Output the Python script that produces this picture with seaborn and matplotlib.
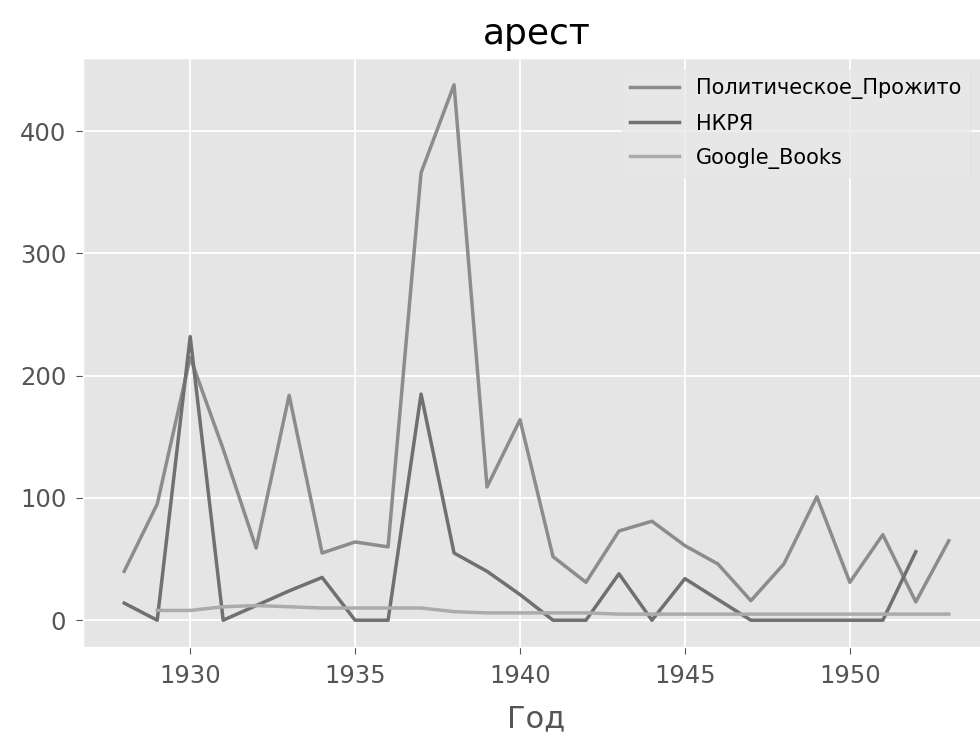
import matplotlib
matplotlib.use("Agg")
import matplotlib.pyplot as plt
import numpy as np
import pandas as pd
import seaborn as sns

years = list(range(1928, 1954))

# values, None = no point that year
prozhito = [40, 95, 215, 140, 59, 184, 55, 64, 60, 366, 438, 109, 164, 52,
            31, 73, 81, 61, 46, 16, 46, 101, 31, 70, 15, 65]
nkrya = [14, 0, 232, 0, 12, 24, 35, 0, 0, 185, 55, 40, 21, 0,
         0, 38, 0, 34, 17, 0, 0, 0, 0, 0, 56, None]
google_books = [None, 8, 8, 11, 12, 11, 10, 10, 10, 10, 7, 6, 6, 6,
                6, 5, 5, 5, 5, 5, 5, 5, 5, 5, 5, 5]

series_names = ["Политическое_Прожито", "НКРЯ", "Google_Books"]
colors = ["#8c8c8c", "#707070", "#ababab"]

df = pd.DataFrame({"Год": years,
                   series_names[0]: prozhito,
                   series_names[1]: nkrya,
                   series_names[2]: google_books})
long_df = df.melt(id_vars="Год", var_name="source", value_name="count").dropna()

plt.style.use("ggplot")
plt.rcParams["font.family"] = ["DejaVu Sans"]
plt.rcParams["grid.linewidth"] = 1.3

fig = plt.figure(figsize=(9.8, 7.38), dpi=100)
ax = fig.add_axes([83 / 980, 1 - 647 / 738, (990 - 83) / 980, (647 - 58) / 738])

sns.lineplot(data=long_df, x="Год", y="count", hue="source",
             hue_order=series_names, palette=colors, linewidth=2.5, ax=ax)

ax.set_title("арест", fontsize=26, pad=10)
ax.set_xlabel("Год", fontsize=22, color="#555555", labelpad=12)
ax.set_ylabel("")
ax.tick_params(axis="both", labelsize=17.5, colors="#555555", length=5, pad=7)
ax.set_xticks([1930, 1935, 1940, 1945, 1950])
ax.set_yticks([0, 100, 200, 300, 400])

leg = ax.legend(loc="upper left", bbox_to_anchor=(622 / 980, 1 - 70 / 738),
                bbox_transform=fig.transFigure, borderaxespad=0,
                fontsize=15, handlelength=2.35, handletextpad=0.8,
                labelspacing=0.68)
leg.get_frame().set_facecolor("#e8e8e8")
leg.get_frame().set_edgecolor("#dedede")

fig.savefig("out.png", dpi=100)
